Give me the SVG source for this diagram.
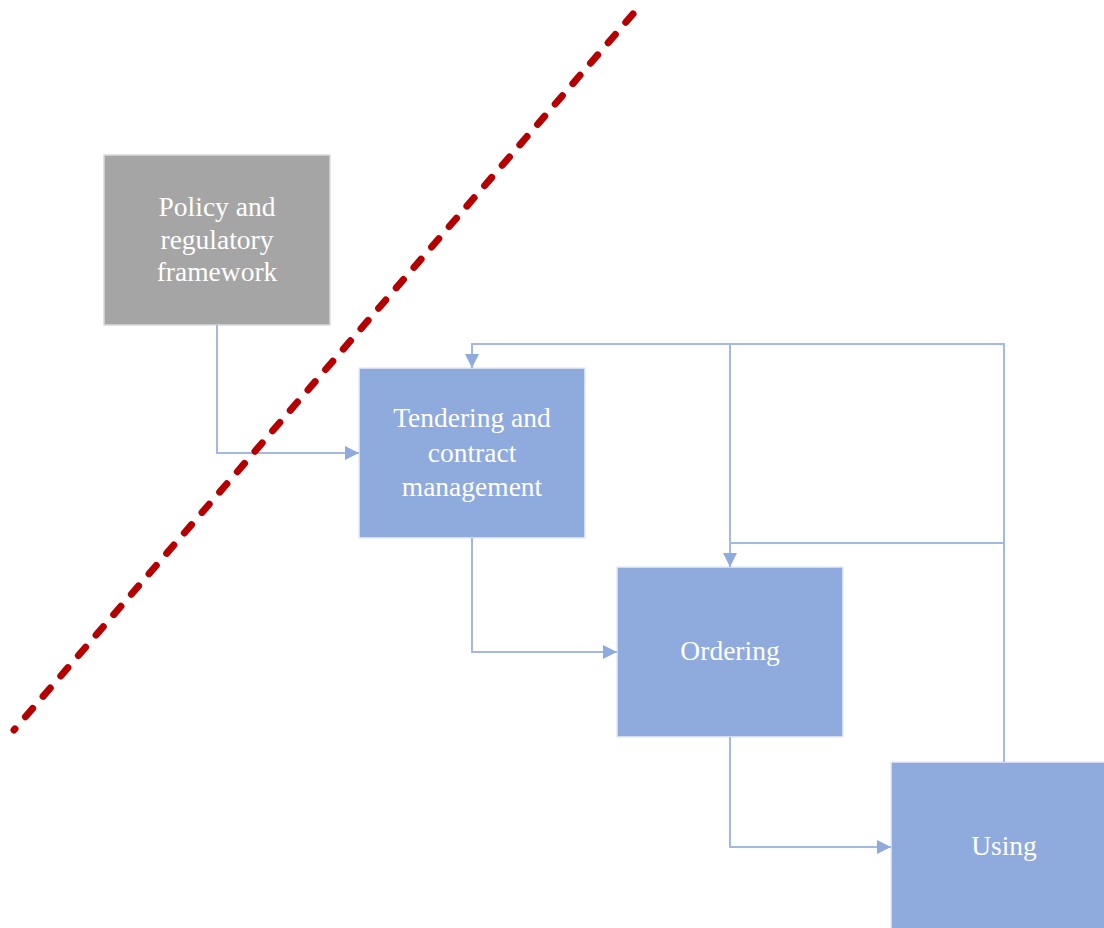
<svg xmlns="http://www.w3.org/2000/svg" width="1104" height="928" viewBox="0 0 1104 928">
  <style>
    .box { stroke: #e8ecf5; stroke-width: 1.5; }
    .grey { fill: #a5a5a5; stroke: #dadada; }
    .blue { fill: #8faadc; }
    .label { font-family: "Liberation Serif", "Times New Roman", serif; font-size: 27.5px; fill: #ffffff; text-anchor: middle; }
    .wire { fill: none; stroke: #a3b8e3; stroke-width: 2; }
  </style>
  <defs>
    <marker id="arrow" viewBox="0 0 14 14" refX="14" refY="7" markerWidth="14" markerHeight="14" markerUnits="userSpaceOnUse" orient="auto">
      <path d="M0,0 L14,7 L0,14 Z" fill="#8faadc"/>
    </marker>
  </defs>

  <rect width="1104" height="928" fill="#ffffff"/>

  <g id="policy">
    <rect class="box grey" x="104" y="155" width="226" height="170"/>
    <text class="label" x="217" y="216">Policy and</text>
    <text class="label" x="217" y="249">regulatory</text>
    <text class="label" x="217" y="281">framework</text>
  </g>

  <g id="tendering">
    <rect class="box blue" x="359" y="368" width="226" height="170"/>
    <text class="label" x="472" y="427">Tendering and</text>
    <text class="label" x="472" y="462">contract</text>
    <text class="label" x="472" y="496">management</text>
  </g>

  <g id="ordering">
    <rect class="box blue" x="617" y="567" width="226" height="170"/>
    <text class="label" x="730" y="660">Ordering</text>
  </g>

  <g id="using">
    <rect class="box blue" x="891" y="762" width="226" height="170"/>
    <text class="label" x="1004" y="855">Using</text>
  </g>

  <g id="connectors">
    <path class="wire" d="M217,325 V453 H359" marker-end="url(#arrow)"/>
    <path class="wire" d="M472,538 V652 H617" marker-end="url(#arrow)"/>
    <path class="wire" d="M730,737 V847 H891" marker-end="url(#arrow)"/>
    <path class="wire" d="M1004,762 V344 H472 V368" marker-end="url(#arrow)"/>
    <path class="wire" d="M730,344 V567" marker-end="url(#arrow)"/>
    <path class="wire" d="M1004,543 H730"/>
  </g>

  <g id="boundary">
    <line x1="633" y1="14" x2="14" y2="730" stroke="#b40000" stroke-width="7" stroke-linecap="round" stroke-dasharray="11 16"/>
  </g>
</svg>
